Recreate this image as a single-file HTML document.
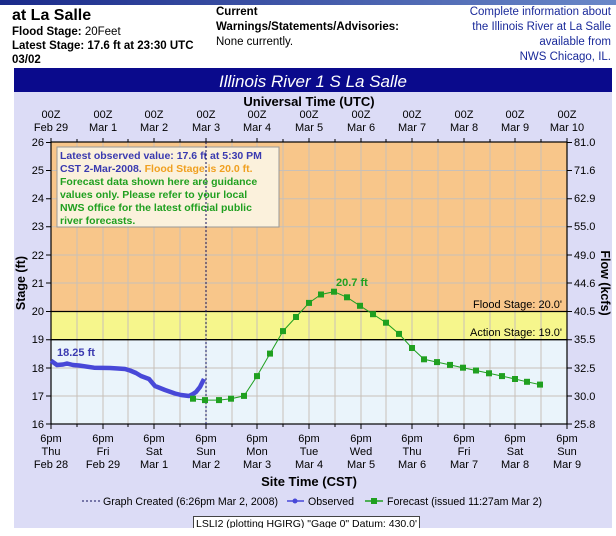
<!DOCTYPE html>
<html><head><meta charset="utf-8"><style>
body{margin:0;width:616px;height:531px;overflow:hidden;background:#fff;font-family:"Liberation Sans",sans-serif;}
</style></head><body>
<svg width="616" height="531" xmlns="http://www.w3.org/2000/svg" font-family="Liberation Sans, sans-serif">
<defs><linearGradient id="tb" x1="0" x2="1"><stop offset="0" stop-color="#1a2a8a"/><stop offset="1" stop-color="#6a88c8"/></linearGradient></defs>
<rect x="0" y="0" width="616" height="5" fill="url(#tb)"/>
<text x="12" y="20" font-size="16" font-weight="bold">at La Salle</text>
<text x="12" y="35" font-size="11.5"><tspan font-weight="bold">Flood Stage:</tspan> 20Feet</text>
<text x="12" y="49" font-size="11.5" font-weight="bold">Latest Stage: 17.6 ft at 23:30 UTC</text>
<text x="12" y="63" font-size="11.5" font-weight="bold">03/02</text>
<text x="216" y="15" font-size="11.5" font-weight="bold">Current</text>
<text x="216" y="30" font-size="11.5" font-weight="bold">Warnings/Statements/Advisories:</text>
<text x="216" y="45" font-size="11.5">None currently.</text>
<g font-size="11.5" fill="#1a2a9a" text-anchor="end">
<text x="611" y="15">Complete information about</text>
<text x="611" y="30">the Illinois River at La Salle</text>
<text x="611" y="45">available from</text>
<text x="611" y="60">NWS Chicago, IL.</text></g>
<rect x="14" y="92" width="598" height="436" fill="#dcdcf6"/>
<rect x="14" y="68" width="598" height="24" fill="#0a0a8c"/>
<text x="313" y="87" font-size="17" font-style="italic" fill="#fff" text-anchor="middle">Illinois River 1 S La Salle</text>
<text x="309" y="106" font-size="13" font-weight="bold" text-anchor="middle">Universal Time (UTC)</text>
<rect x="51" y="142" width="516" height="170" fill="#f8c68a"/>
<rect x="51" y="312" width="516" height="28" fill="#f6f68c"/>
<rect x="51" y="340" width="516" height="84" fill="#eaf4fb"/>
<g stroke="#c8c0b8" stroke-width="1">
<path d="M77 142V424M103 142V424M128 142V424M154 142V424M180 142V424M206 142V424M232 142V424M257 142V424M283 142V424M309 142V424M335 142V424M361 142V424M386 142V424M412 142V424M438 142V424M464 142V424M490 142V424M515 142V424M541 142V424"/>
<path d="M51 170.5H567M51 198.7H567M51 226.8H567M51 255H567M51 283H567M51 368H567M51 396H567"/>
</g>
<path d="M51 311.5H567M51 339.7H567" stroke="#000" stroke-width="1.3"/>
<text x="562" y="308" font-size="11" text-anchor="end">Flood Stage: 20.0'</text>
<text x="562" y="336" font-size="11" text-anchor="end">Action Stage: 19.0'</text>
<rect x="51" y="142" width="516" height="282" fill="none" stroke="#000" stroke-width="1.2"/>
<g stroke="#000">
<path d="M51 142v-4M77 142v-3M103 142v-4M128 142v-3M154 142v-4M180 142v-3M206 142v-4M232 142v-3M257 142v-4M283 142v-3M309 142v-4M335 142v-3M361 142v-4M386 142v-3M412 142v-4M438 142v-3M464 142v-4M490 142v-3M515 142v-4M541 142v-3M567 142v-4"/>
<path d="M51 424v5M77 424v3M103 424v5M128 424v3M154 424v5M180 424v3M206 424v5M232 424v3M257 424v5M283 424v3M309 424v5M335 424v3M361 424v5M386 424v3M412 424v5M438 424v3M464 424v5M490 424v3M515 424v5M541 424v3M567 424v5"/>
<path d="M46 142.5h5M46 170.5h5M46 198.7h5M46 226.8h5M46 255h5M46 283h5M46 311.5h5M46 339.7h5M46 368h5M46 396h5M46 424h5"/>
<path d="M567 142.5h5M567 170.5h5M567 198.7h5M567 226.8h5M567 255h5M567 283h5M567 311.5h5M567 339.7h5M567 368h5M567 396h5M567 424h5"/>
</g>
<g font-size="11" text-anchor="end">
<text x="44" y="146">26</text><text x="44" y="174">25</text><text x="44" y="202">24</text><text x="44" y="230">23</text><text x="44" y="259">22</text><text x="44" y="287">21</text><text x="44" y="315">20</text><text x="44" y="343">19</text><text x="44" y="372">18</text><text x="44" y="400">17</text><text x="44" y="428">16</text></g>
<g font-size="11">
<text x="574" y="146">81.0</text><text x="574" y="174">71.6</text><text x="574" y="202">62.9</text><text x="574" y="230">55.0</text><text x="574" y="259">49.0</text><text x="574" y="287">44.6</text><text x="574" y="315">40.5</text><text x="574" y="343">35.5</text><text x="574" y="372">32.5</text><text x="574" y="400">30.0</text><text x="574" y="428">25.8</text></g>
<text transform="translate(25,283) rotate(-90)" font-size="12.5" font-weight="bold" text-anchor="middle">Stage (ft)</text>
<text transform="translate(601,283) rotate(90)" font-size="12.5" font-weight="bold" text-anchor="middle">Flow (kcfs)</text>
<g font-size="11" text-anchor="middle">
<text x="51" y="118">00Z</text><text x="51" y="131">Feb 29</text>
<text x="103" y="118">00Z</text><text x="103" y="131">Mar 1</text>
<text x="154" y="118">00Z</text><text x="154" y="131">Mar 2</text>
<text x="206" y="118">00Z</text><text x="206" y="131">Mar 3</text>
<text x="257" y="118">00Z</text><text x="257" y="131">Mar 4</text>
<text x="309" y="118">00Z</text><text x="309" y="131">Mar 5</text>
<text x="361" y="118">00Z</text><text x="361" y="131">Mar 6</text>
<text x="412" y="118">00Z</text><text x="412" y="131">Mar 7</text>
<text x="464" y="118">00Z</text><text x="464" y="131">Mar 8</text>
<text x="515" y="118">00Z</text><text x="515" y="131">Mar 9</text>
<text x="567" y="118">00Z</text><text x="567" y="131">Mar 10</text>
</g>
<g font-size="11" text-anchor="middle">
<text x="51" y="442">6pm</text><text x="51" y="455">Thu</text><text x="51" y="468">Feb 28</text>
<text x="103" y="442">6pm</text><text x="103" y="455">Fri</text><text x="103" y="468">Feb 29</text>
<text x="154" y="442">6pm</text><text x="154" y="455">Sat</text><text x="154" y="468">Mar 1</text>
<text x="206" y="442">6pm</text><text x="206" y="455">Sun</text><text x="206" y="468">Mar 2</text>
<text x="257" y="442">6pm</text><text x="257" y="455">Mon</text><text x="257" y="468">Mar 3</text>
<text x="309" y="442">6pm</text><text x="309" y="455">Tue</text><text x="309" y="468">Mar 4</text>
<text x="361" y="442">6pm</text><text x="361" y="455">Wed</text><text x="361" y="468">Mar 5</text>
<text x="412" y="442">6pm</text><text x="412" y="455">Thu</text><text x="412" y="468">Mar 6</text>
<text x="464" y="442">6pm</text><text x="464" y="455">Fri</text><text x="464" y="468">Mar 7</text>
<text x="515" y="442">6pm</text><text x="515" y="455">Sat</text><text x="515" y="468">Mar 8</text>
<text x="567" y="442">6pm</text><text x="567" y="455">Sun</text><text x="567" y="468">Mar 9</text>
</g>
<text x="309" y="486" font-size="13" font-weight="bold" text-anchor="middle">Site Time (CST)</text>
<rect x="57" y="147" width="222" height="80" fill="#fbf1dc" stroke="#999" stroke-width="1"/>
<g font-size="10.5" font-weight="bold">
<text x="60" y="159" fill="#3a3ab0">Latest observed value: 17.6 ft at 5:30 PM</text>
<text x="60" y="172"><tspan fill="#3a3ab0">CST 2-Mar-2008.</tspan> <tspan fill="#f0a020">Flood Stage is 20.0 ft.</tspan></text>
<text x="60" y="185" fill="#20a020">Forecast data shown here are guidance</text>
<text x="60" y="198" fill="#20a020">values only. Please refer to your local</text>
<text x="60" y="211" fill="#20a020">NWS office for the latest official public</text>
<text x="60" y="224" fill="#20a020">river forecasts.</text>
</g>
<path d="M206 142V424" stroke="#10105a" stroke-width="1" stroke-dasharray="2,2"/>
<polyline fill="none" stroke="#4848d8" stroke-width="4.5" stroke-linejoin="round" points="51,360.7 57,365 63,364.5 67,363.5 73,365 79,365.5 94,367.7 110,368 118,368.5 125,369 130,370.5 136,373 141,376 149,379 155,386 165,390 175,393.5 181,395 189,396 193,394 196,392 200,387 204,379"/>
<text x="57" y="356" font-size="11" font-weight="bold" fill="#3a3ab0">18.25 ft</text>
<polyline fill="none" stroke="#20a020" stroke-width="1" points="193,398.7 205,400.1 219,400.1 231,398.7 244,395.9 257,376.1 270,353.6 283,331.1 296,317 309,302.9 321,294.5 334,291.7 347,297.3 360,305.8 373,314.2 386,322.7 399,333.9 412,348 424,359.3 437,362.1 450,364.9 463,367.7 476,370.5 489,373.3 502,376.1 515,379 527,381.8 540,384.6"/>
<g fill="#20a020">
<rect x="190" y="395.7" width="6" height="6"/><rect x="202" y="397.1" width="6" height="6"/><rect x="216" y="397.1" width="6" height="6"/><rect x="228" y="395.7" width="6" height="6"/><rect x="241" y="392.9" width="6" height="6"/><rect x="254" y="373.1" width="6" height="6"/><rect x="267" y="350.6" width="6" height="6"/><rect x="280" y="328.1" width="6" height="6"/><rect x="293" y="314" width="6" height="6"/><rect x="306" y="299.9" width="6" height="6"/><rect x="318" y="291.5" width="6" height="6"/><rect x="331" y="288.7" width="6" height="6"/><rect x="344" y="294.3" width="6" height="6"/><rect x="357" y="302.8" width="6" height="6"/><rect x="370" y="311.2" width="6" height="6"/><rect x="383" y="319.7" width="6" height="6"/><rect x="396" y="330.9" width="6" height="6"/><rect x="409" y="345" width="6" height="6"/><rect x="421" y="356.3" width="6" height="6"/><rect x="434" y="359.1" width="6" height="6"/><rect x="447" y="361.9" width="6" height="6"/><rect x="460" y="364.7" width="6" height="6"/><rect x="473" y="367.5" width="6" height="6"/><rect x="486" y="370.3" width="6" height="6"/><rect x="499" y="373.1" width="6" height="6"/><rect x="512" y="376" width="6" height="6"/><rect x="524" y="378.8" width="6" height="6"/><rect x="537" y="381.6" width="6" height="6"/>
</g>
<text x="336" y="286" font-size="11" font-weight="bold" fill="#20a020">20.7 ft</text>
<g font-size="11">
<path d="M82 501H100" stroke="#10105a" stroke-dasharray="2,2"/>
<text x="103" y="505" textLength="175" lengthAdjust="spacingAndGlyphs">Graph Created (6:26pm Mar 2, 2008)</text>
<path d="M287 501H304" stroke="#4848d8" stroke-width="1.5"/><circle cx="295" cy="501" r="2.5" fill="#4848d8"/>
<text x="308" y="505" textLength="46" lengthAdjust="spacingAndGlyphs">Observed</text>
<path d="M365 501H383" stroke="#20a020" stroke-width="1.5"/><rect x="371" y="498" width="6" height="6" fill="#20a020"/>
<text x="387" y="505" textLength="155" lengthAdjust="spacingAndGlyphs">Forecast (issued 11:27am Mar 2)</text>
</g>
<rect x="193.5" y="516.5" width="226" height="13" fill="#fff" stroke="#444"/>
<text x="196" y="527" font-size="10.5" textLength="221" lengthAdjust="spacingAndGlyphs">LSLI2 (plotting HGIRG)  "Gage 0" Datum: 430.0'</text>
<rect x="0" y="528" width="616" height="3" fill="#fff"/>
</svg>
</body></html>
